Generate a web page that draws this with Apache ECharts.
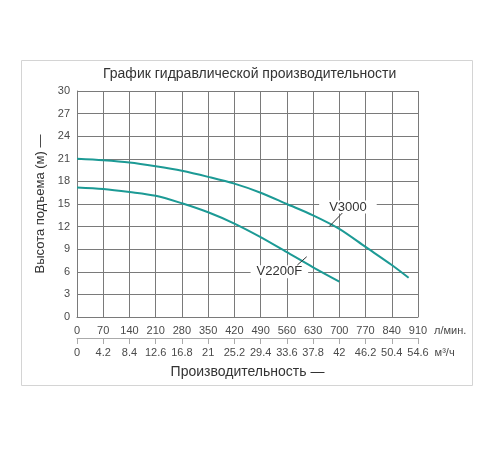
<!DOCTYPE html>
<html>
<head>
<meta charset="utf-8">
<script src="https://cdn.jsdelivr.net/npm/echarts@6/dist/echarts.min.js"></script>
<style>
html,body{margin:0;padding:0;background:#fff;}
#main{width:500px;height:450px;}
</style>
</head>
<body>
<div id="main"></div>
<script>
// расход, л/мин и соответствующие подписи м3/ч
var flowLpm = [0, 70, 140, 210, 280, 350, 420, 490, 560, 630, 700, 770, 840, 910];
var flowM3h = ['0', '4.2', '8.4', '12.6', '16.8', '21', '25.2', '29.4', '33.6', '37.8', '42', '46.2', '50.4', '54.6'];

// V3000
var v3000X = [0, 70, 140, 210, 280, 350, 420, 490, 560, 630, 700, 770, 840, 885];
var v3000Y = [21.0, 20.8, 20.5, 20.0, 19.4, 18.6, 17.7, 16.5, 15.0, 13.5, 11.7, 9.3, 6.9, 5.2];

// V2200F
var v2200X = [0, 70, 140, 210, 280, 350, 420, 490, 560, 630, 700];
var v2200Y = [17.2, 17.0, 16.6, 16.1, 15.1, 13.9, 12.4, 10.6, 8.6, 6.6, 4.7];

// подписи кривых и выноски (в координатах данных)
var v3000Label = [723, 14.6];
var v3000Leader = [[673, 12.0], [708, 13.8]];
var v2200Label = [540, 6.0];
var v2200Leader = [[613, 8.0], [588, 6.9]];

function pairs(xs, ys) {
    var out = [];
    for (var i = 0; i < xs.length; i++) {
        out.push([xs[i], ys[i]]);
    }
    return out;
}

var lineColor = '#1c9a95';
var gridColor = '#7a7a7a';
var textColor = '#4a4a4a';
var font = '"Liberation Sans", Arial, sans-serif';

var myChart = echarts.init(document.getElementById('main'));

var option = {
    backgroundColor: '#fff',
    textStyle: {fontFamily: font},
    title: {
        text: 'График гидравлической производительности',
        left: 98,
        top: 62,
        textStyle: {fontSize: 14, fontWeight: 'normal', color: '#333', fontFamily: font}
    },
    graphic: [{
        type: 'rect',
        shape: {x: 21.5, y: 60.5, width: 451, height: 325},
        style: {fill: 'none', stroke: '#d4d4d4', lineWidth: 1},
        silent: true
    }],
    grid: {left: 77, right: 82, top: 91, bottom: 133, outerBoundsMode: 'none'},
    xAxis: [{
        type: 'value',
        min: 0, max: 910, interval: 70,
        position: 'bottom',
        name: 'л/мин.',
        nameLocation: 'end',
        nameGap: 16,
        nameTextStyle: {color: textColor, fontSize: 11, verticalAlign: 'top', padding: [8, 0, 0, 0]},
        axisLine: {show: true, lineStyle: {color: gridColor, width: 1}},
        axisTick: {show: false},
        axisLabel: {color: textColor, fontSize: 11, margin: 8},
        splitLine: {show: true, lineStyle: {color: gridColor, width: 1}}
    }, {
        type: 'value',
        min: 0, max: 910, interval: 70,
        position: 'bottom',
        offset: 21,
        name: 'м³/ч',
        nameLocation: 'end',
        nameGap: 14,
        nameTextStyle: {color: textColor, fontSize: 11, verticalAlign: 'top', padding: [9, 0, 0, 0]},
        axisLine: {show: true, lineStyle: {color: '#aaa', width: 1}},
        axisTick: {show: true, length: 6, lineStyle: {color: '#aaa'}},
        axisLabel: {
            color: textColor, fontSize: 11, margin: 9,
            formatter: function (v) {
                var i = flowLpm.indexOf(v);
                return i >= 0 ? flowM3h[i] : '';
            }
        },
        splitLine: {show: false}
    }, {
        type: 'value',
        min: 0, max: 910,
        position: 'bottom',
        offset: 21,
        name: 'Производительность —',
        nameLocation: 'middle',
        nameGap: 27,
        nameTextStyle: {color: '#333', fontSize: 14},
        axisLine: {show: false},
        axisTick: {show: false},
        axisLabel: {show: false},
        splitLine: {show: false}
    }],
    yAxis: {
        type: 'value',
        min: 0, max: 30, interval: 3,
        name: 'Высота подъема (м) —',
        nameLocation: 'middle',
        nameRotate: 90,
        nameGap: 28,
        nameTextStyle: {color: '#333', fontSize: 13},
        axisLine: {show: true, lineStyle: {color: gridColor, width: 1}},
        axisTick: {show: false},
        axisLabel: {color: textColor, fontSize: 11, margin: 7},
        splitLine: {show: true, lineStyle: {color: gridColor, width: 1}}
    },
    series: [{
        name: 'V3000',
        type: 'line',
        smooth: 0.3,
        showSymbol: false,
        data: pairs(v3000X, v3000Y),
        lineStyle: {color: lineColor, width: 2},
        itemStyle: {color: lineColor},
        markPoint: {
            symbol: 'rect',
            symbolSize: 0,
            silent: true,
            z: 3,
            label: {
                show: true, position: 'inside', formatter: '{b}',
                color: '#333', fontSize: 13, backgroundColor: '#fff', padding: [0, 10]
            },
            data: [{name: 'V3000', coord: v3000Label}]
        },
        markLine: {
            silent: true,
            symbol: 'none',
            z: 5,
            label: {show: false},
            lineStyle: {color: '#333', width: 1, type: 'solid'},
            data: [[{coord: v3000Leader[0]}, {coord: v3000Leader[1]}]]
        }
    }, {
        name: 'V2200F',
        type: 'line',
        smooth: 0.3,
        showSymbol: false,
        data: pairs(v2200X, v2200Y),
        lineStyle: {color: lineColor, width: 2},
        itemStyle: {color: lineColor},
        markPoint: {
            symbol: 'rect',
            symbolSize: 0,
            silent: true,
            z: 3,
            label: {
                show: true, position: 'inside', formatter: '{b}',
                color: '#333', fontSize: 13, backgroundColor: '#fff', padding: [0, 6]
            },
            data: [{name: 'V2200F', coord: v2200Label}]
        },
        markLine: {
            silent: true,
            symbol: 'none',
            z: 5,
            label: {show: false},
            lineStyle: {color: '#333', width: 1, type: 'solid'},
            data: [[{coord: v2200Leader[0]}, {coord: v2200Leader[1]}]]
        }
    }]
};

myChart.setOption(option);
</script>
</body>
</html>
